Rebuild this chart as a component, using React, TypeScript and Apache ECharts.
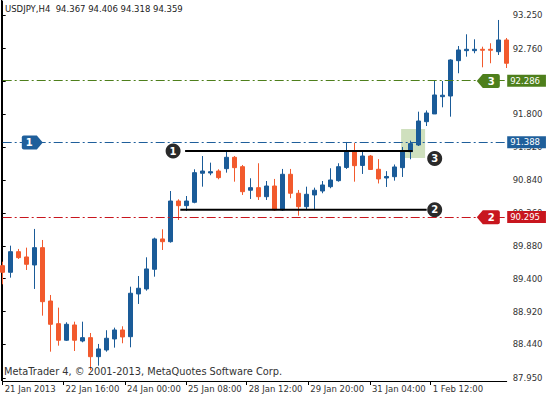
import React, { useEffect, useRef } from 'react';
import * as echarts from 'echarts';

// ---- data ----
const symbolName = 'USDJPY,H4';
const lastQuote = [94.367, 94.406, 94.318, 94.359];
const copyright = 'MetaTrader 4, \u00A9 2001-2013, MetaQuotes Software Corp.';

const opens = [
  89.590, 89.493, 89.794, 89.717, 89.600, 89.853, 89.074, 88.743, 88.501, 88.724,
  88.490, 88.539, 88.261, 88.359, 88.520, 88.651, 88.553, 89.177, 89.250, 89.537,
  89.980, 89.940, 90.534, 90.466, 90.515, 90.939, 90.943, 90.972, 91.006, 91.172,
  91.035, 90.691, 90.729, 90.597, 90.753, 90.403, 90.924, 90.647, 90.451, 90.622,
  90.680, 90.743, 90.831, 91.024, 91.257, 91.053, 91.191, 90.997, 90.870, 90.889,
  91.021, 91.254, 91.352, 91.692, 91.805, 92.057, 92.067, 92.583, 92.729, 92.729,
  92.749, 92.749, 92.714, 92.885,
];
const closes = [
  89.493, 89.794, 89.707, 89.610, 89.853, 89.064, 88.734, 88.501, 88.734, 88.501,
  88.539, 88.261, 88.374, 88.530, 88.651, 88.549, 89.187, 89.260, 89.542, 89.980,
  89.940, 90.534, 90.466, 90.534, 90.948, 90.972, 90.962, 90.875, 91.172, 91.021,
  90.670, 90.729, 90.597, 90.753, 90.403, 90.924, 90.647, 90.451, 90.632, 90.691,
  90.768, 90.841, 91.035, 91.257, 91.050, 91.191, 90.994, 90.856, 90.892, 91.031,
  91.264, 91.372, 91.702, 91.819, 92.082, 92.078, 92.593, 92.739, 92.749, 92.749,
  92.735, 92.735, 92.885, 92.545,
];
const lows = [
  89.318, 89.415, 89.688, 89.527, 89.250, 88.860, 88.334, 88.422, 88.490, 88.344,
  88.471, 88.067, 88.130, 88.334, 88.393, 88.457, 88.398, 89.031, 89.225, 89.429,
  89.819, 89.926, 90.257, 90.388, 90.501, 90.743, 90.910, 90.851, 90.948, 90.816,
  90.622, 90.564, 90.549, 90.549, 90.388, 90.388, 90.574, 90.320, 90.403, 90.403,
  90.647, 90.720, 90.816, 91.002, 90.816, 90.929, 90.987, 90.790, 90.739, 90.831,
  90.885, 91.143, 91.337, 91.629, 91.805, 91.902, 91.765, 92.399, 92.641, 92.691,
  92.486, 92.545, 92.666, 92.476,
];
const highs = [
  89.648, 89.882, 89.834, 89.853, 90.126, 89.965, 89.162, 88.977, 88.763, 88.772,
  88.772, 88.607, 88.447, 88.647, 88.685, 88.705, 89.283, 89.439, 89.712, 89.999,
  90.121, 90.680, 90.559, 90.607, 90.997, 91.191, 91.094, 90.997, 91.250, 91.191,
  91.060, 90.866, 91.085, 90.826, 90.856, 91.002, 91.002, 90.695, 90.743, 90.729,
  90.826, 91.012, 91.085, 91.396, 91.381, 91.257, 91.206, 91.145, 90.970, 91.067,
  91.323, 91.415, 91.838, 91.856, 92.291, 92.286, 92.603, 92.797, 92.968, 92.895,
  92.787, 92.837, 93.177, 92.914,
];

const priceTicks = [87.95, 88.44, 88.92, 89.4, 89.88, 90.36, 90.84, 91.32, 91.8, 92.28, 92.76, 93.25];
const timeTickBars = [0, 7.6, 15.3, 22.9, 30.5, 38.2, 45.9, 53.5];
const timeTickLabels = ['21 Jan 2013', '22 Jan 16:00', '24 Jan 00:00', '25 Jan 08:00', '28 Jan 12:00', '29 Jan 20:00', '31 Jan 04:00', '1 Feb 12:00'];

// horizontal price levels (tags 1, 2, 3)
const levelTags = ['1', '2', '3'];
const levelPrices = [91.388, 90.295, 92.286];
const levelTagBars = [3.7, 60.7, 60.7];

// hand-drawn resistance / support lines
const resistancePrice = 91.264;
const resistanceBars = [22.8, 51.25];
const supportPrice = 90.407;
const supportBars = [22.2, 53];

// numbered markers
const markerLabels = ['1', '2', '3'];
const markerBars = [21.3, 54, 54];
const markerPrices = [91.264, 90.407, 91.155];

// breakout box
const boxBars = [49.8, 52.8];
const boxPrices = [91.585, 91.162];

// bar times (H4, weekends skipped)
const MONTHS = ['Jan', 'Feb', 'Mar'];
const categories: string[] = [];
{
  let t = Date.UTC(2013, 0, 21, 8);
  while (categories.length < opens.length) {
    const d = new Date(t);
    const wd = d.getUTCDay();
    if (wd !== 0 && wd !== 6) {
      categories.push(`${d.getUTCDate()} ${MONTHS[d.getUTCMonth()]} ${String(d.getUTCHours()).padStart(2, '0')}:00`);
    }
    t += 4 * 3600 * 1000;
  }
}

// ---- styles ----
const FONT = '"DejaVu Sans", sans-serif';
const FS = 8.5;
const BULL = '#1a5b98';
const BEAR = '#f25a2d';
const LEVEL_COLORS = ['#1f5f9b', '#c8161e', '#4e7f1c'];
const TAG_RIGHT = 'path://M2,0 L15,0 L21,7 L15,14 L2,14 Q0,14 0,12 L0,2 Q0,0 2,0 Z';
const TAG_LEFT = 'path://M6,0 L21,0 Q23,0 23,2 L23,12 Q23,14 21,14 L6,14 L0,7 Z';

export default function App() {
  const ref = useRef<HTMLDivElement>(null);
  useEffect(() => {
    document.body.style.margin = '0';
    const chart = echarts.init(ref.current!, null, { renderer: 'svg' });
    const candles = opens.map((o, i) => [o, closes[i], lows[i], highs[i]]);
    const nearestTick = (v: number) => {
      let best = 0;
      timeTickBars.forEach((b, i) => {
        if (Math.abs(b - v) < Math.abs(timeTickBars[best] - v)) best = i;
      });
      return timeTickLabels[best];
    };
    chart.setOption({
      animation: false,
      backgroundColor: '#ffffff',
      title: [
        {
          text: `${symbolName}  ${lastQuote.map((q) => q.toFixed(3)).join(' ')}`,
          left: 5, top: 4, padding: 0,
          textStyle: { fontFamily: FONT, fontSize: FS, fontWeight: 'normal', color: '#222' },
        },
        {
          text: copyright,
          left: 4, top: 366, padding: 0,
          textStyle: { fontFamily: FONT, fontSize: 9.8, fontWeight: 'normal', color: '#333' },
        },
      ],
      grid: { left: 2.7, right: 39.3, top: 1, height: 380, containLabel: false },
      xAxis: [
        { type: 'category', data: categories, boundaryGap: false, show: false },
        {
          type: 'value', min: 0, max: 63, position: 'bottom',
          axisLine: { show: true, lineStyle: { color: '#000', width: 1 } },
          axisTick: { show: true, length: 4, customValues: timeTickBars, lineStyle: { color: '#000' } },
          axisLabel: {
            customValues: timeTickBars, formatter: (v: number) => nearestTick(v),
            align: 'left', padding: [0, 0, 0, 2], margin: 3,
            fontFamily: FONT, fontSize: FS, color: '#333',
          },
          splitLine: { show: false },
        },
      ],
      yAxis: {
        type: 'value', position: 'right', min: 87.906, max: 93.454,
        axisLine: { show: true, lineStyle: { color: '#000', width: 1 } },
        axisTick: { show: true, length: 3, customValues: priceTicks, lineStyle: { color: '#000' } },
        axisLabel: {
          customValues: priceTicks, formatter: (v: number) => v.toFixed(3),
          fontFamily: FONT, fontSize: FS, color: '#333', margin: 6,
        },
        splitLine: { show: false },
      },
      graphic: [
        { type: 'line', shape: { x1: 1.5, y1: 0, x2: 1.5, y2: 381 }, style: { stroke: '#000', lineWidth: 1 } },
      ],
      series: [
        {
          type: 'candlestick', name: 'USDJPY', xAxisIndex: 0, yAxisIndex: 0,
          data: candles, barWidth: 4, clip: false,
          itemStyle: { color: BULL, color0: BEAR, borderColor: BULL, borderColor0: BEAR, borderWidth: 1 },
          markLine: {
            silent: true, symbol: ['none', 'none'],
            data: levelPrices.map((p, i) => ({
              yAxis: p,
              lineStyle: { color: LEVEL_COLORS[i], type: [9, 3, 2, 3], width: 1 },
              label: {
                show: true, position: 'end', distance: 0.5,
                formatter: () => p.toFixed(3),
                backgroundColor: LEVEL_COLORS[i], color: '#fff',
                fontFamily: FONT, fontSize: FS, padding: [2, 6, 1, 3],
              },
            })),
          },
        },
        {
          type: 'line', name: 'resistance', xAxisIndex: 1, yAxisIndex: 0, silent: true,
          data: resistanceBars.map((b) => [b, resistancePrice]),
          symbol: 'none', lineStyle: { color: '#000', width: 2 },
          markArea: {
            silent: true,
            itemStyle: { color: 'rgba(140,180,100,0.42)' },
            data: [[{ coord: [boxBars[0], boxPrices[0]] }, { coord: [boxBars[1], boxPrices[1]] }]],
          },
          markPoint: {
            silent: true,
            data: levelTags.map((t, i) => ({
              coord: [levelTagBars[i], levelPrices[i]],
              symbol: i === 0 ? TAG_RIGHT : TAG_LEFT,
              symbolSize: i === 0 ? [21, 14] : [23, 14],
              itemStyle: { color: LEVEL_COLORS[i] },
              label: {
                show: true, formatter: t, color: '#fff', fontWeight: 'bold',
                fontFamily: FONT, fontSize: 10, offset: i === 0 ? [-3, 0] : [3, 0],
              },
            })),
          },
        },
        {
          type: 'line', name: 'support', xAxisIndex: 1, yAxisIndex: 0, silent: true,
          data: supportBars.map((b) => [b, supportPrice]),
          symbol: 'none', lineStyle: { color: '#000', width: 2 },
        },
        {
          type: 'scatter', name: 'markers', xAxisIndex: 1, yAxisIndex: 0, silent: true,
          data: markerBars.map((b, i) => [b, markerPrices[i], markerLabels[i]]),
          symbolSize: 15, itemStyle: { color: '#2a2a2a', opacity: 1 },
          label: {
            show: true, position: 'inside', formatter: (p: any) => p.value[2],
            color: '#fff', fontWeight: 'bold', fontFamily: FONT, fontSize: 10,
          },
        },
      ],
    });
    return () => chart.dispose();
  }, []);
  return <div ref={ref} style={{ width: 546, height: 396 }} />;
}
